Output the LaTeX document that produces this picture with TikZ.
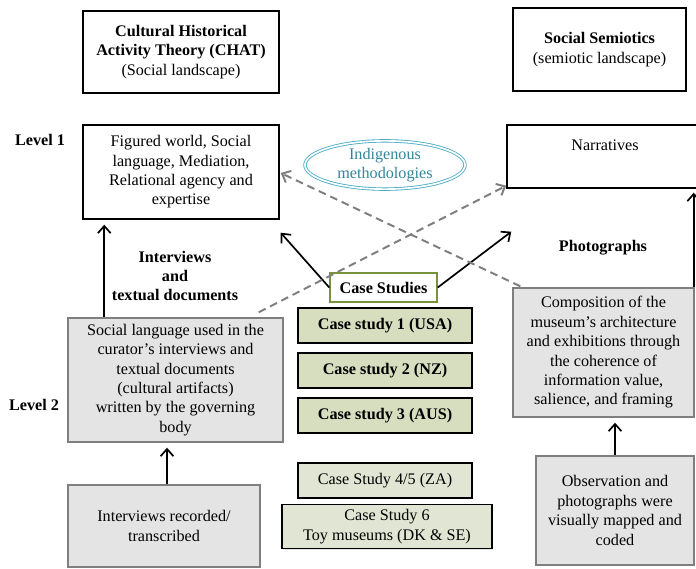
\documentclass[tikz,border=0pt]{standalone}
\usepackage{fontspec}
\setmainfont{Liberation Serif}
\usepackage{tikz}
\usetikzlibrary{arrows.meta, positioning, shapes.geometric, calc, shadows}
\definecolor{casegreen}{HTML}{D7DEC0}
\definecolor{caselight}{HTML}{E1E6D4}
\definecolor{olivedge}{HTML}{77933C}
\definecolor{boxgray}{HTML}{E4E4E4}
\definecolor{edgegray}{HTML}{7F7F7F}
\definecolor{indiblue}{HTML}{4BACC6}
\definecolor{inditext}{HTML}{31859C}

\begin{document}
\begin{tikzpicture}[
    x=0.025cm, y=-0.025cm,
    font=\fontsize{11.5}{13.8}\selectfont,
    theory/.style={draw=black, line width=1pt, fill=white, align=center, inner sep=2pt,
        drop shadow={shadow xshift=1pt, shadow yshift=-1pt, opacity=0.2}},
    grayproc/.style={draw=edgegray, line width=1pt, fill=boxgray, align=center, inner sep=2pt,
        drop shadow={shadow xshift=1pt, shadow yshift=-1pt, opacity=0.2}},
    casehead/.style={draw=olivedge, line width=1pt, fill=white, align=center,
        font=\fontsize{11.5}{13.8}\selectfont\bfseries,
        minimum width=2.675cm, minimum height=0.725cm},
    casebox/.style={draw=black, line width=1pt, fill=casegreen, align=center,
        minimum width=4.35cm, minimum height=0.875cm,
        drop shadow={shadow xshift=1pt, shadow yshift=-1pt, opacity=0.2}},
    lvl/.style={font=\fontsize{11.5}{13.8}\selectfont\bfseries, align=center},
    arrow/.style={-{Straight Barb[length=1.8mm, width=3.2mm]}, line width=1.2pt, draw=black},
    dasharrow/.style={-{Straight Barb[length=1.8mm, width=3.2mm]}, line width=1.4pt,
        draw=edgegray, dash pattern=on 5.5pt off 3.5pt}
]
\useasboundingbox (0,0) rectangle (696,569);

% Theories (top)
\node[theory, minimum width=4.9cm, minimum height=2.05cm] (chat) at (181,52)
    {\textbf{Cultural Historical}\\\textbf{Activity Theory (CHAT)}\\(Social landscape)};
\node[theory, minimum width=4.325cm, minimum height=2.075cm] (semio) at (599.5,49.5)
    {\textbf{Social Semiotics}\\(semiotic landscape)};

% Level 1
\node[lvl] (lvlone) at (40,140) {Level 1};
\node[theory, minimum width=4.9cm, minimum height=2.35cm] (figured) at (181,172)
    {Figured world, Social\\language, Mediation,\\Relational agency and\\expertise};
\node[theory, minimum width=4.9cm, minimum height=1.575cm] (narr) at (605,156.5)
    {Narratives\\[3pt]~};
\node[ellipse, draw=indiblue, double=white, double distance=1.2pt, line width=0.6pt,
    minimum width=4.0cm, minimum height=1.2cm, inner sep=0pt, align=center,
    text=inditext] (indig) at (385,165) {Indigenous\\methodologies};

% Level 2
\node[lvl] (lvltwo) at (34,405) {Level 2};
\node[lvl] (intlabel) at (175,276) {Interviews\\and\\textual documents};
\node[lvl] (photolabel) at (603,248) {Photographs};
\node[grayproc, minimum width=5.375cm, minimum height=3.1cm] (social) at (175.5,380)
    {Social language used in the\\curator’s interviews and\\textual documents\\(cultural artifacts)\\written by the governing\\body};
\node[grayproc, minimum width=4.525cm, minimum height=3.225cm] (comp) at (603.5,352.5)
    {Composition of the\\museum’s architecture\\and exhibitions through\\the coherence of\\information value,\\salience, and framing};

% Data sources (bottom)
\node[grayproc, minimum width=4.8cm, minimum height=2.05cm] (intrec) at (164,526)
    {Interviews recorded/\\transcribed};
\node[grayproc, minimum width=3.95cm, minimum height=2.725cm] (observ) at (615,510.5)
    {Observation and\\photographs were\\visually mapped and\\coded};

% Case studies
\node[casehead] (cases) at (383.5,287.5) {Case Studies};
\node[casebox, font=\fontsize{11.5}{13.8}\selectfont\bfseries] (caseone) at (385,325.5) {Case study 1 (USA)};
\node[casebox, font=\fontsize{11.5}{13.8}\selectfont\bfseries] (casetwo) at (385,370.5) {Case study 2 (NZ)};
\node[casebox, font=\fontsize{11.5}{13.8}\selectfont\bfseries] (casethree) at (385,415.5) {Case study 3 (AUS)};
\node[casebox, fill=caselight] (casefour) at (385,480.5) {Case Study 4/5 (ZA)};
\node[casebox, fill=caselight, minimum width=5.25cm, minimum height=1.025cm] (casesix) at (387,526.5)
    {Case Study 6\\Toy museums (DK \& SE)};

% Solid flows
\draw[arrow] ($(social.north west)+(37,0)$) -- ($(social.north west |- figured.south)+(37,5)$);
\draw[arrow] ($(intrec.north)+(3,0)$) -- ($(intrec.north |- social.south)+(3,5)$);
\draw[arrow] ($(observ.north)$) -- ($(observ.north |- comp.south)+(0,5)$);
\draw[arrow] ($(comp.north east)+(-1,0)$) -- ($(comp.north east |- narr.south)+(-1,4)$);
\draw[arrow] (cases.west) -- ($(figured.south east)+(1,13)$);
\draw[arrow] (cases.east) -- ($(narr.south west)+(5,43)$);

% Dashed cross flows
\draw[dasharrow] ($(social.north east)+(-25,-5)$) -- ($(narr.south west)+(0,-3)$);
\draw[dasharrow] ($(comp.north west)+(8,-1)$) -- ($(figured.east)+(1,1)$);

\end{tikzpicture}
\end{document}
